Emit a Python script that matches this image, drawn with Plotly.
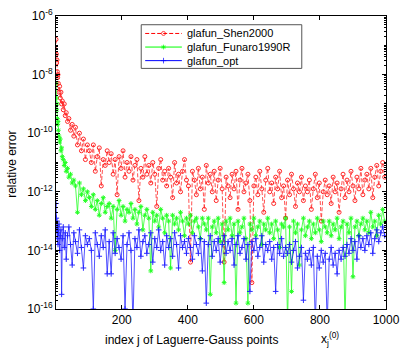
import plotly.graph_objects as go

# index j of the Laguerre-Gauss points (dense at the start, where the error drops fast)
j_head = [1, 2, 3, 4, 5, 6, 7, 8, 10, 12, 14, 16, 18, 20, 23, 26, 29, 32, 36, 40,
          45, 50, 55, 60, 66, 72, 78, 84, 90, 96]
j_body = list(range(102, 1000, 6))
j_index = j_head + j_body

# log10(relative error)
shen2000_exp = [
    -6.8, -7.3, -7.6, -7.5, -7.9, -8.1, -8.0, -8.3, -8.6, -8.4,
    -8.8, -8.6, -9.0, -8.9, -9.2, -9.0, -9.4, -9.3, -9.6, -9.5,
    -9.9, -9.7, -10.1, -9.8, -10.4, -10.0, -10.6, -10.2, -10.9, -10.4,
    -10.6, -11.0, -10.4, -11.3, -10.8, -10.5, -11.8, -10.9, -11.1, -10.6,
    -11.0, -10.7, -11.4, -10.9, -12.1, -10.8, -11.2, -10.6, -11.5, -11.0,
    -11.3, -10.8, -11.6, -11.1, -10.9, -12.3, -11.2, -11.5, -10.8, -11.4,
    -11.1, -11.7, -11.0, -11.4, -12.5, -11.2, -10.9, -11.6, -11.3, -11.8,
    -11.2, -11.5, -12.2, -11.0, -11.7, -11.4, -12.0, -11.3, -10.9, -11.6,
    -11.8, -14.4, -11.3, -11.6, -12.1, -11.2, -11.9, -11.5, -12.6, -11.1,
    -11.7, -11.4, -12.0, -11.3, -12.3, -11.6, -11.2, -11.9, -14.4, -11.5,
    -11.8, -12.2, -11.4, -11.9, -11.3, -12.6, -11.6, -11.2, -12.0, -11.7,
    -11.4, -12.3, -15.1, -11.8, -11.5, -12.1, -11.3, -11.9, -12.7, -11.6,
    -11.2, -12.0, -11.7, -12.4, -11.5, -11.9, -11.3, -12.2, -11.8, -12.9,
    -11.6, -12.1, -11.4, -11.9, -12.5, -11.7, -12.0, -11.5, -12.3, -11.8,
    -12.0, -11.6, -12.6, -11.9, -11.4, -12.2, -11.7, -13.0, -12.0, -11.6,
    -12.1, -11.8, -12.4, -11.5, -12.0, -11.7, -12.7, -11.9, -11.4, -12.2,
    -11.6, -12.0, -11.3, -11.8, -12.3, -11.5, -11.9, -11.2, -12.1, -11.6,
    -11.4, -11.9, -11.2, -12.2, -11.5, -11.1, -11.8, -11.3, -11.0, -11.5,
]
funaro_exp = [
    -8.3, -8.8, -9.2, -9.0, -9.5, -9.7, -9.6, -9.9, -10.1, -10.3,
    -10.2, -10.6, -10.5, -10.8, -10.9, -11.1, -11.0, -11.3, -11.2, -11.5,
    -11.4, -11.7, -11.6, -11.8, -12.7, -11.7, -12.1, -11.9, -12.3, -12.0,
    -12.2, -12.5, -12.1, -12.6, -12.3, -12.8, -12.4, -12.2, -12.7, -12.5,
    -12.4, -12.9, -12.5, -14.0, -12.6, -12.3, -12.8, -12.5, -13.0, -12.6,
    -12.7, -12.4, -12.9, -12.6, -13.1, -12.7, -12.5, -13.3, -12.8, -12.6,
    -12.9, -14.7, -12.7, -13.0, -12.8, -13.2, -12.6, -12.9, -13.4, -12.8,
    -13.0, -14.6, -12.8, -13.1, -12.9, -13.3, -12.7, -13.0, -13.5, -12.9,
    -13.1, -12.8, -13.4, -13.0, -12.9, -13.2, -13.6, -12.9, -13.1, -13.3,
    -12.9, -15.5, -13.2, -13.0, -13.4, -12.9, -13.7, -13.1, -15.1, -13.0,
    -13.3, -12.9, -13.5, -13.1, -15.8, -13.0, -13.4, -13.2, -12.9, -13.6,
    -15.8, -13.1, -13.3, -12.9, -13.5, -13.2, -13.0, -13.8, -13.1, -13.3,
    -12.9, -13.4, -13.1, -13.6, -13.0, -13.3, -13.9, -13.1, -13.2, -12.9,
    -16.5, -13.2, -15.4, -13.0, -13.4, -13.1, -14.5, -13.3, -12.9, -13.5,
    -13.2, -13.0, -13.6, -13.1, -13.4, -12.9, -13.3, -13.7, -13.0, -13.2,
    -13.4, -13.0, -13.5, -13.1, -13.3, -12.9, -13.6, -13.2, -13.0, -16.5,
    -13.1, -13.4, -12.9, -14.9, -13.2, -13.0, -13.5, -13.1, -12.9, -13.3,
    -13.0, -13.4, -12.7, -13.2, -13.0, -13.5, -12.8, -13.1, -12.6, -13.0,
]
opt_exp = [
    -12.4, -12.9, -13.3, -13.0, -13.6, -13.2, -13.8, -13.4, -13.1, -14.0,
    -13.5, -13.3, -15.5, -13.6, -13.2, -13.9, -13.4, -14.3, -13.5, -13.2,
    -13.8, -14.5, -13.4, -13.7, -14.1, -13.3, -13.9, -14.6, -13.5, -13.8,
    -13.6, -14.0, -16.0, -13.4, -13.8, -14.2, -13.5, -13.9, -13.3, -14.8,
    -13.7, -14.8, -13.4, -14.1, -13.6, -13.9, -14.3, -13.5, -16.0, -13.8,
    -13.4, -14.0, -16.5, -13.6, -13.9, -13.3, -14.2, -13.7, -13.5, -14.1,
    -13.8, -13.4, -14.4, -13.6, -13.9, -13.3, -14.0, -13.7, -14.5, -13.5,
    -13.9, -13.6, -14.2, -13.4, -13.8, -14.6, -13.5, -13.9, -13.7, -14.1,
    -13.6, -13.9, -14.3, -13.5, -13.8, -14.1, -13.6, -14.7, -13.7, -15.8,
    -13.8, -13.5, -14.2, -13.7, -14.0, -13.6, -14.4, -13.8, -13.5, -14.1,
    -13.7, -14.0, -13.6, -14.5, -13.8, -13.5, -14.1, -13.9, -13.6, -14.3,
    -13.8, -15.4, -13.7, -14.0, -13.6, -14.2, -13.9, -13.5, -14.4, -13.8,
    -14.0, -13.7, -14.3, -13.9, -15.4, -13.8, -14.1, -13.6, -14.2, -13.9,
    -14.1, -13.8, -14.4, -14.0, -13.7, -14.6, -14.2, -13.9, -15.7, -14.1,
    -14.3, -14.0, -14.5, -13.9, -16.5, -14.2, -14.6, -14.0, -14.4, -14.1,
    -16.5, -14.3, -13.9, -14.5, -14.1, -14.8, -14.0, -14.3, -13.9, -14.2,
    -13.8, -14.1, -13.6, -14.0, -13.7, -14.3, -13.5, -13.9, -13.6, -14.0,
    -13.5, -13.8, -13.4, -14.1, -13.6, -13.3, -13.7, -13.4, -13.2, -13.5,
]
for s in (shen2000_exp, funaro_exp, opt_exp):
    assert len(s) == len(j_index)

series = [
    ("glafun_Shen2000", shen2000_exp, "#ff0000", "4px,2px", "circle-open", 4),
    ("glafun_Funaro1990R", funaro_exp, "#00ff00", "solid", "asterisk-open", 4),
    ("glafun_opt", opt_exp, "#0000ff", "solid", "cross-thin-open", 4),
]

# plot area in pixels (407x358 page)
L, R, T, B = 56, 389, 7, 309


def px_x(p):
    return (p - L) / (R - L)


def px_y(p):
    return (B - p) / (B - T)


FONT = "Liberation Sans, Arial, sans-serif"

fig = go.Figure()

for name, exps, color, dash, symbol, msize in series:
    fig.add_trace(go.Scatter(
        x=j_index, y=[10.0 ** e for e in exps], name=name, mode="lines+markers",
        line=dict(color=color, width=0.8, dash=dash),
        marker=dict(symbol=symbol, size=msize, color=color, line=dict(color=color, width=1)),
        opacity=0.85, showlegend=False, cliponaxis=True,
    ))

# hand-made legend box (MATLAB style, compact rows)
rows = [25, 39, 53]
for (name, _, color, dash, symbol, msize), ry in zip(series, rows):
    fig.add_trace(go.Scatter(
        x=[px_x(146), px_x(164.5), px_x(183)], y=[px_y(ry)] * 3,
        xaxis="x2", yaxis="y2", mode="lines+markers", showlegend=False, hoverinfo="skip",
        line=dict(color=color, width=1, dash=dash),
        marker=dict(symbol=symbol, size=[0, msize, 0], color=color, line=dict(color=color, width=1)),
    ))
    fig.add_annotation(
        x=px_x(186), y=px_y(ry), xref="paper", yref="paper", text=name,
        showarrow=False, xanchor="left", yanchor="middle",
        font=dict(family=FONT, size=11, color="black"),
    )
fig.add_shape(
    type="rect", xref="paper", yref="paper", layer="below",
    x0=px_x(142), x1=px_x(304), y0=px_y(16), y1=px_y(61),
    line=dict(color="#555555", width=1), fillcolor="white",
)

label_decades = [-16, -14, -12, -10, -8, -6]
major_vals = [10.0 ** d for d in label_decades]
major_text = [f"10<sup>{d}</sup>" for d in label_decades]
minor_vals = [k * 10.0 ** d for d in range(-16, -6) for k in range(1, 10) if not (k == 1 and d % 2 == 0)]

fig.update_layout(
    width=407, height=358,
    margin=dict(l=L, r=407 - R, t=T, b=358 - B),
    paper_bgcolor="white", plot_bgcolor="white",
    font=dict(family=FONT, size=12, color="black"),
    xaxis=dict(
        range=[1, 1000], tickvals=[200, 400, 600, 800, 1000],
        ticks="inside", ticklen=4, tickcolor="black", tickfont=dict(size=12),
        showline=True, linecolor="black", linewidth=1, mirror="ticks",
        showgrid=False, zeroline=False, ticklabeloverflow="allow",
    ),
    yaxis=dict(
        type="log", range=[-16.0005, -5.9995], tickvals=major_vals, ticktext=major_text,
        ticks="inside", ticklen=4, tickcolor="black", tickfont=dict(size=12),
        minor=dict(tickvals=minor_vals, ticks="inside", ticklen=2, tickcolor="black", showgrid=False),
        showline=True, linecolor="black", linewidth=1, mirror="ticks",
        showgrid=False, zeroline=False, ticklabeloverflow="allow",
    ),
    xaxis2=dict(overlaying="x", range=[0, 1], visible=False),
    yaxis2=dict(overlaying="y", range=[0, 1], visible=False),
)

fig.add_annotation(
    x=px_x(12), y=px_y(160), xref="paper", yref="paper", textangle=-90,
    text="relative error", showarrow=False,
    xanchor="center", yanchor="middle", font=dict(size=12),
)
fig.add_annotation(
    x=px_x(193), y=px_y(341), xref="paper", yref="paper",
    text="index j of Laguerre-Gauss points", showarrow=False,
    xanchor="center", yanchor="middle", font=dict(size=12),
)
fig.add_annotation(
    x=px_x(321), y=px_y(340), xref="paper", yref="paper",
    text="x<sub>j</sub><sup>(0)</sup>", showarrow=False,
    xanchor="left", yanchor="middle", font=dict(size=12),
)

fig.write_html("out.html", config={"displayModeBar": False},
               post_script="document.body.style.margin='0px';")
